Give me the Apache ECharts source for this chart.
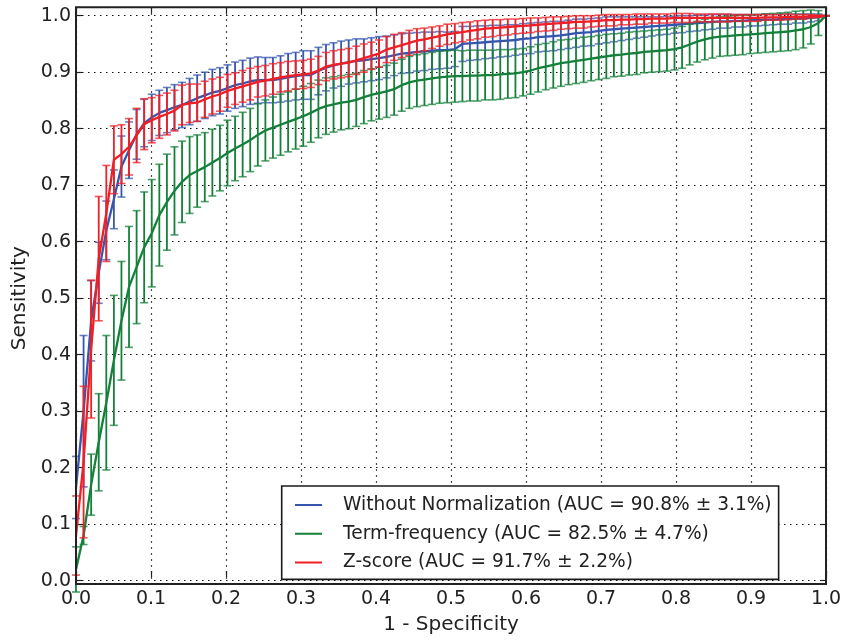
<!DOCTYPE html>
<html><head><meta charset="utf-8">
<script src="https://cdn.jsdelivr.net/npm/echarts@6/dist/echarts.min.js"></script>
<style>html,body{margin:0;padding:0;background:#fff}#c{width:845px;height:640px}</style>
</head><body><div id="c"></div>
<script>
const fpr = [0.0000,0.0101,0.0202,0.0303,0.0404,0.0505,0.0606,0.0707,0.0808,0.0909,
0.1010,0.1111,0.1212,0.1313,0.1414,0.1515,0.1616,0.1717,0.1818,0.1919,
0.2020,0.2121,0.2222,0.2323,0.2424,0.2525,0.2626,0.2727,0.2828,0.2929,
0.3030,0.3131,0.3232,0.3333,0.3434,0.3535,0.3636,0.3737,0.3838,0.3939,
0.4040,0.4141,0.4242,0.4343,0.4444,0.4545,0.4646,0.4747,0.4848,0.4949,
0.5051,0.5152,0.5253,0.5354,0.5455,0.5556,0.5657,0.5758,0.5859,0.5960,
0.6061,0.6162,0.6263,0.6364,0.6465,0.6566,0.6667,0.6768,0.6869,0.6970,
0.7071,0.7172,0.7273,0.7374,0.7475,0.7576,0.7677,0.7778,0.7879,0.7980,
0.8081,0.8182,0.8283,0.8384,0.8485,0.8586,0.8687,0.8788,0.8889,0.8990,
0.9091,0.9192,0.9293,0.9394,0.9495,0.9596,0.9697,0.9798,0.9899,1.0000];

const blueMean = [0.165,0.300,0.460,0.545,0.620,0.675,0.733,0.762,0.790,0.810,
0.820,0.828,0.833,0.838,0.842,0.848,0.854,0.859,0.864,0.867,
0.872,0.877,0.880,0.884,0.886,0.886,0.886,0.888,0.891,0.893,
0.895,0.895,0.902,0.908,0.912,0.915,0.918,0.920,0.921,0.923,
0.925,0.927,0.930,0.933,0.934,0.936,0.937,0.938,0.939,0.939,
0.941,0.950,0.951,0.952,0.953,0.954,0.955,0.956,0.957,0.959,
0.960,0.962,0.963,0.964,0.965,0.967,0.969,0.970,0.971,0.973,
0.975,0.976,0.977,0.978,0.979,0.980,0.981,0.982,0.983,0.984,
0.985,0.986,0.987,0.988,0.989,0.990,0.990,0.991,0.991,0.992,
0.992,0.993,0.993,0.994,0.994,0.995,0.995,0.996,0.997,1.000];
const blueStd = [0.055,0.134,0.071,0.054,0.052,0.052,0.054,0.050,0.044,0.042,
0.041,0.040,0.040,0.040,0.040,0.041,0.041,0.041,0.041,0.041,
0.041,0.041,0.041,0.041,0.041,0.040,0.040,0.041,0.042,0.042,
0.043,0.043,0.042,0.041,0.040,0.040,0.039,0.039,0.038,0.038,
0.038,0.037,0.036,0.035,0.035,0.034,0.034,0.033,0.033,0.032,
0.031,0.031,0.030,0.030,0.029,0.029,0.028,0.028,0.027,0.027,
0.027,0.026,0.026,0.026,0.025,0.025,0.025,0.024,0.024,0.023,
0.023,0.022,0.021,0.020,0.019,0.018,0.017,0.016,0.016,0.015,
0.015,0.014,0.014,0.013,0.013,0.012,0.012,0.011,0.011,0.010,
0.010,0.010,0.009,0.009,0.009,0.008,0.008,0.007,0.006,0.000];

const greenMean = [0.020,0.080,0.170,0.245,0.315,0.390,0.460,0.520,0.555,0.590,
0.615,0.647,0.670,0.690,0.706,0.718,0.725,0.732,0.740,0.748,
0.757,0.765,0.772,0.780,0.789,0.797,0.802,0.807,0.812,0.817,
0.822,0.828,0.835,0.840,0.843,0.846,0.848,0.851,0.856,0.860,
0.863,0.866,0.870,0.877,0.882,0.885,0.887,0.889,0.891,0.892,
0.893,0.893,0.894,0.894,0.895,0.895,0.896,0.897,0.898,0.900,
0.903,0.907,0.910,0.913,0.916,0.918,0.920,0.922,0.924,0.926,
0.928,0.930,0.931,0.933,0.934,0.936,0.937,0.938,0.939,0.941,
0.944,0.949,0.954,0.958,0.961,0.963,0.964,0.965,0.966,0.967,
0.968,0.969,0.970,0.971,0.972,0.974,0.976,0.980,0.987,1.000];
const greenStd = [0.040,0.016,0.054,0.086,0.119,0.115,0.105,0.107,0.100,0.098,
0.095,0.090,0.085,0.078,0.072,0.068,0.064,0.061,0.059,0.058,
0.058,0.057,0.057,0.056,0.055,0.054,0.054,0.054,0.053,0.053,
0.053,0.052,0.051,0.050,0.049,0.048,0.048,0.047,0.047,0.046,
0.046,0.046,0.046,0.046,0.046,0.046,0.046,0.046,0.046,0.046,
0.046,0.045,0.045,0.045,0.044,0.044,0.044,0.043,0.043,0.042,
0.042,0.042,0.041,0.041,0.041,0.040,0.040,0.040,0.039,0.039,
0.039,0.038,0.038,0.038,0.038,0.037,0.037,0.037,0.037,0.037,
0.037,0.036,0.036,0.036,0.036,0.035,0.035,0.035,0.035,0.034,
0.034,0.034,0.034,0.034,0.034,0.034,0.033,0.030,0.022,0.000];

const redMean = [0.080,0.210,0.410,0.570,0.650,0.745,0.755,0.768,0.788,0.808,
0.815,0.821,0.826,0.832,0.842,0.845,0.846,0.852,0.857,0.861,
0.867,0.871,0.875,0.879,0.883,0.885,0.888,0.891,0.893,0.895,
0.896,0.898,0.903,0.910,0.913,0.915,0.917,0.921,0.925,0.929,
0.933,0.940,0.944,0.948,0.952,0.956,0.958,0.961,0.964,0.967,
0.969,0.971,0.973,0.975,0.977,0.978,0.979,0.980,0.981,0.982,
0.983,0.984,0.985,0.986,0.987,0.988,0.989,0.989,0.990,0.991,
0.992,0.992,0.993,0.993,0.994,0.994,0.995,0.995,0.995,0.996,
0.996,0.996,0.996,0.996,0.996,0.996,0.996,0.996,0.996,0.996,
0.996,0.997,0.997,0.997,0.998,0.998,0.998,0.999,0.999,1.000];
const redStd = [0.070,0.134,0.122,0.110,0.085,0.060,0.052,0.050,0.048,0.045,
0.040,0.038,0.037,0.036,0.035,0.034,0.033,0.032,0.031,0.030,
0.029,0.028,0.028,0.028,0.027,0.027,0.027,0.026,0.026,0.025,
0.025,0.025,0.025,0.025,0.025,0.025,0.025,0.025,0.025,0.024,
0.024,0.023,0.023,0.022,0.022,0.021,0.020,0.019,0.018,0.018,
0.017,0.017,0.016,0.016,0.015,0.015,0.014,0.014,0.013,0.013,
0.013,0.012,0.012,0.012,0.011,0.011,0.011,0.011,0.010,0.010,
0.010,0.010,0.009,0.009,0.009,0.009,0.008,0.008,0.008,0.008,
0.008,0.008,0.007,0.007,0.007,0.007,0.007,0.006,0.006,0.006,
0.006,0.005,0.005,0.005,0.005,0.004,0.004,0.003,0.002,0.000];

const seriesLabels = [
  'Without Normalization (AUC = 90.8% \u00b1 3.1%)',
  'Term-frequency (AUC = 82.5% \u00b1 4.7%)',
  'Z-score (AUC = 91.7% \u00b1 2.2%)'
];
const colors = ['#3656ad', '#14803a', '#ef1f26'];
const xTitle = '1 - Specificity';
const yTitle = 'Sensitivity';

const FONT = 'DejaVu Sans';
const TXT = '#222';

function renderErr(params, api) {
  const x = api.value(0), m = api.value(1), s = api.value(2);
  const top = api.coord([x, m + s]);
  const bot = api.coord([x, m - s]);
  const c = api.visual('color');
  const hw = 4;
  return {
    type: 'group',
    children: [
      {type: 'line', shape: {x1: top[0], y1: top[1], x2: bot[0], y2: bot[1]}, style: {stroke: c, lineWidth: 1.8}},
      {type: 'line', shape: {x1: top[0] - hw, y1: top[1], x2: top[0] + hw, y2: top[1]}, style: {stroke: c, lineWidth: 1.6, opacity: 0.75}},
      {type: 'line', shape: {x1: bot[0] - hw, y1: bot[1], x2: bot[0] + hw, y2: bot[1]}, style: {stroke: c, lineWidth: 1.6, opacity: 0.75}}
    ]
  };
}

const groups = [[blueMean, blueStd], [greenMean, greenStd], [redMean, redStd]];
const series = [];
groups.forEach((g, k) => {
  const [mean, std] = g;
  series.push({
    type: 'custom', name: seriesLabels[k], xAxisIndex: 2, yAxisIndex: 1,
    renderItem: renderErr, clip: false,
    itemStyle: {color: colors[k]},
    encode: {x: 0, y: 1},
    data: fpr.map((x, i) => [x, mean[i], std[i]]),
    z: 3 + k * 2
  });
  series.push({
    type: 'line', name: 'mean' + k, xAxisIndex: 2, yAxisIndex: 1,
    symbol: 'none', clip: false,
    lineStyle: {color: colors[k], width: 2.3},
    itemStyle: {color: colors[k]},
    data: fpr.map((x, i) => [x, mean[i]]),
    z: 4 + k * 2
  });
});

const dotted = {color: '#111', width: 1.2, type: [1.5, 4.5]};
const tick = {show: true, inside: true, length: 6, lineStyle: {color: '#222', width: 1.2}};

const option = {
  animation: false,
  backgroundColor: '#fff',
  grid: [
    {left: 76, right: 19, top: 7.3, bottom: 52.3, show: true, borderColor: '#222', borderWidth: 2, backgroundColor: 'transparent', z: 20},
    {left: 76, right: 19, top: 15.7, bottom: 59.3}
  ],
  xAxis: [
    {type: 'value', gridIndex: 0, position: 'bottom', min: 0, max: 1, interval: 0.1,
     axisLine: {show: false}, axisTick: tick,
     axisLabel: {margin: 6, fontFamily: FONT, fontSize: 19, color: TXT, formatter: v => v.toFixed(1)},
     splitLine: {show: true, lineStyle: dotted},
     name: xTitle, nameLocation: 'middle', nameGap: 31,
     nameTextStyle: {fontFamily: FONT, fontSize: 20, color: TXT}},
    {type: 'value', gridIndex: 0, position: 'top', min: 0, max: 1, interval: 0.1,
     axisLine: {show: false}, axisTick: tick, axisLabel: {show: false}, splitLine: {show: false}},
    {type: 'value', gridIndex: 1, min: 0, max: 1, show: false}
  ],
  yAxis: [
    {type: 'value', gridIndex: 0, min: -0.0125, max: 1.015, show: false},
    {type: 'value', gridIndex: 1, position: 'left', min: 0, max: 1, interval: 0.1,
     axisLine: {show: false}, axisTick: tick,
     axisLabel: {margin: 5, fontFamily: FONT, fontSize: 19, color: TXT, formatter: v => v.toFixed(1)},
     splitLine: {show: true, lineStyle: dotted},
     name: yTitle, nameLocation: 'middle', nameGap: 46,
     nameTextStyle: {fontFamily: FONT, fontSize: 20, color: TXT}},
    {type: 'value', gridIndex: 1, position: 'right', min: 0, max: 1, interval: 0.1,
     axisLine: {show: false}, axisTick: tick, axisLabel: {show: false}, splitLine: {show: false}}
  ],
  legend: {
    data: seriesLabels,
    orient: 'vertical',
    left: 281.7, top: 486,
    padding: [9, 7, 7, 13.3],
    itemWidth: 43, itemHeight: 20, itemGap: 8.7,
    icon: 'path://M0,9L27,9L27,11L0,11Z M43,0L43,20L43,0Z',
    backgroundColor: '#fff', borderColor: '#1a1a1a', borderWidth: 1.6, borderRadius: 0,
    textStyle: {fontFamily: FONT, fontSize: 18.6, color: TXT, lineHeight: 20},
    selectedMode: false,
    z: 30
  },
  series: series
};

const chart = echarts.init(document.getElementById('c'), null, {renderer: 'canvas'});
chart.setOption(option);
</script>
</body></html>
